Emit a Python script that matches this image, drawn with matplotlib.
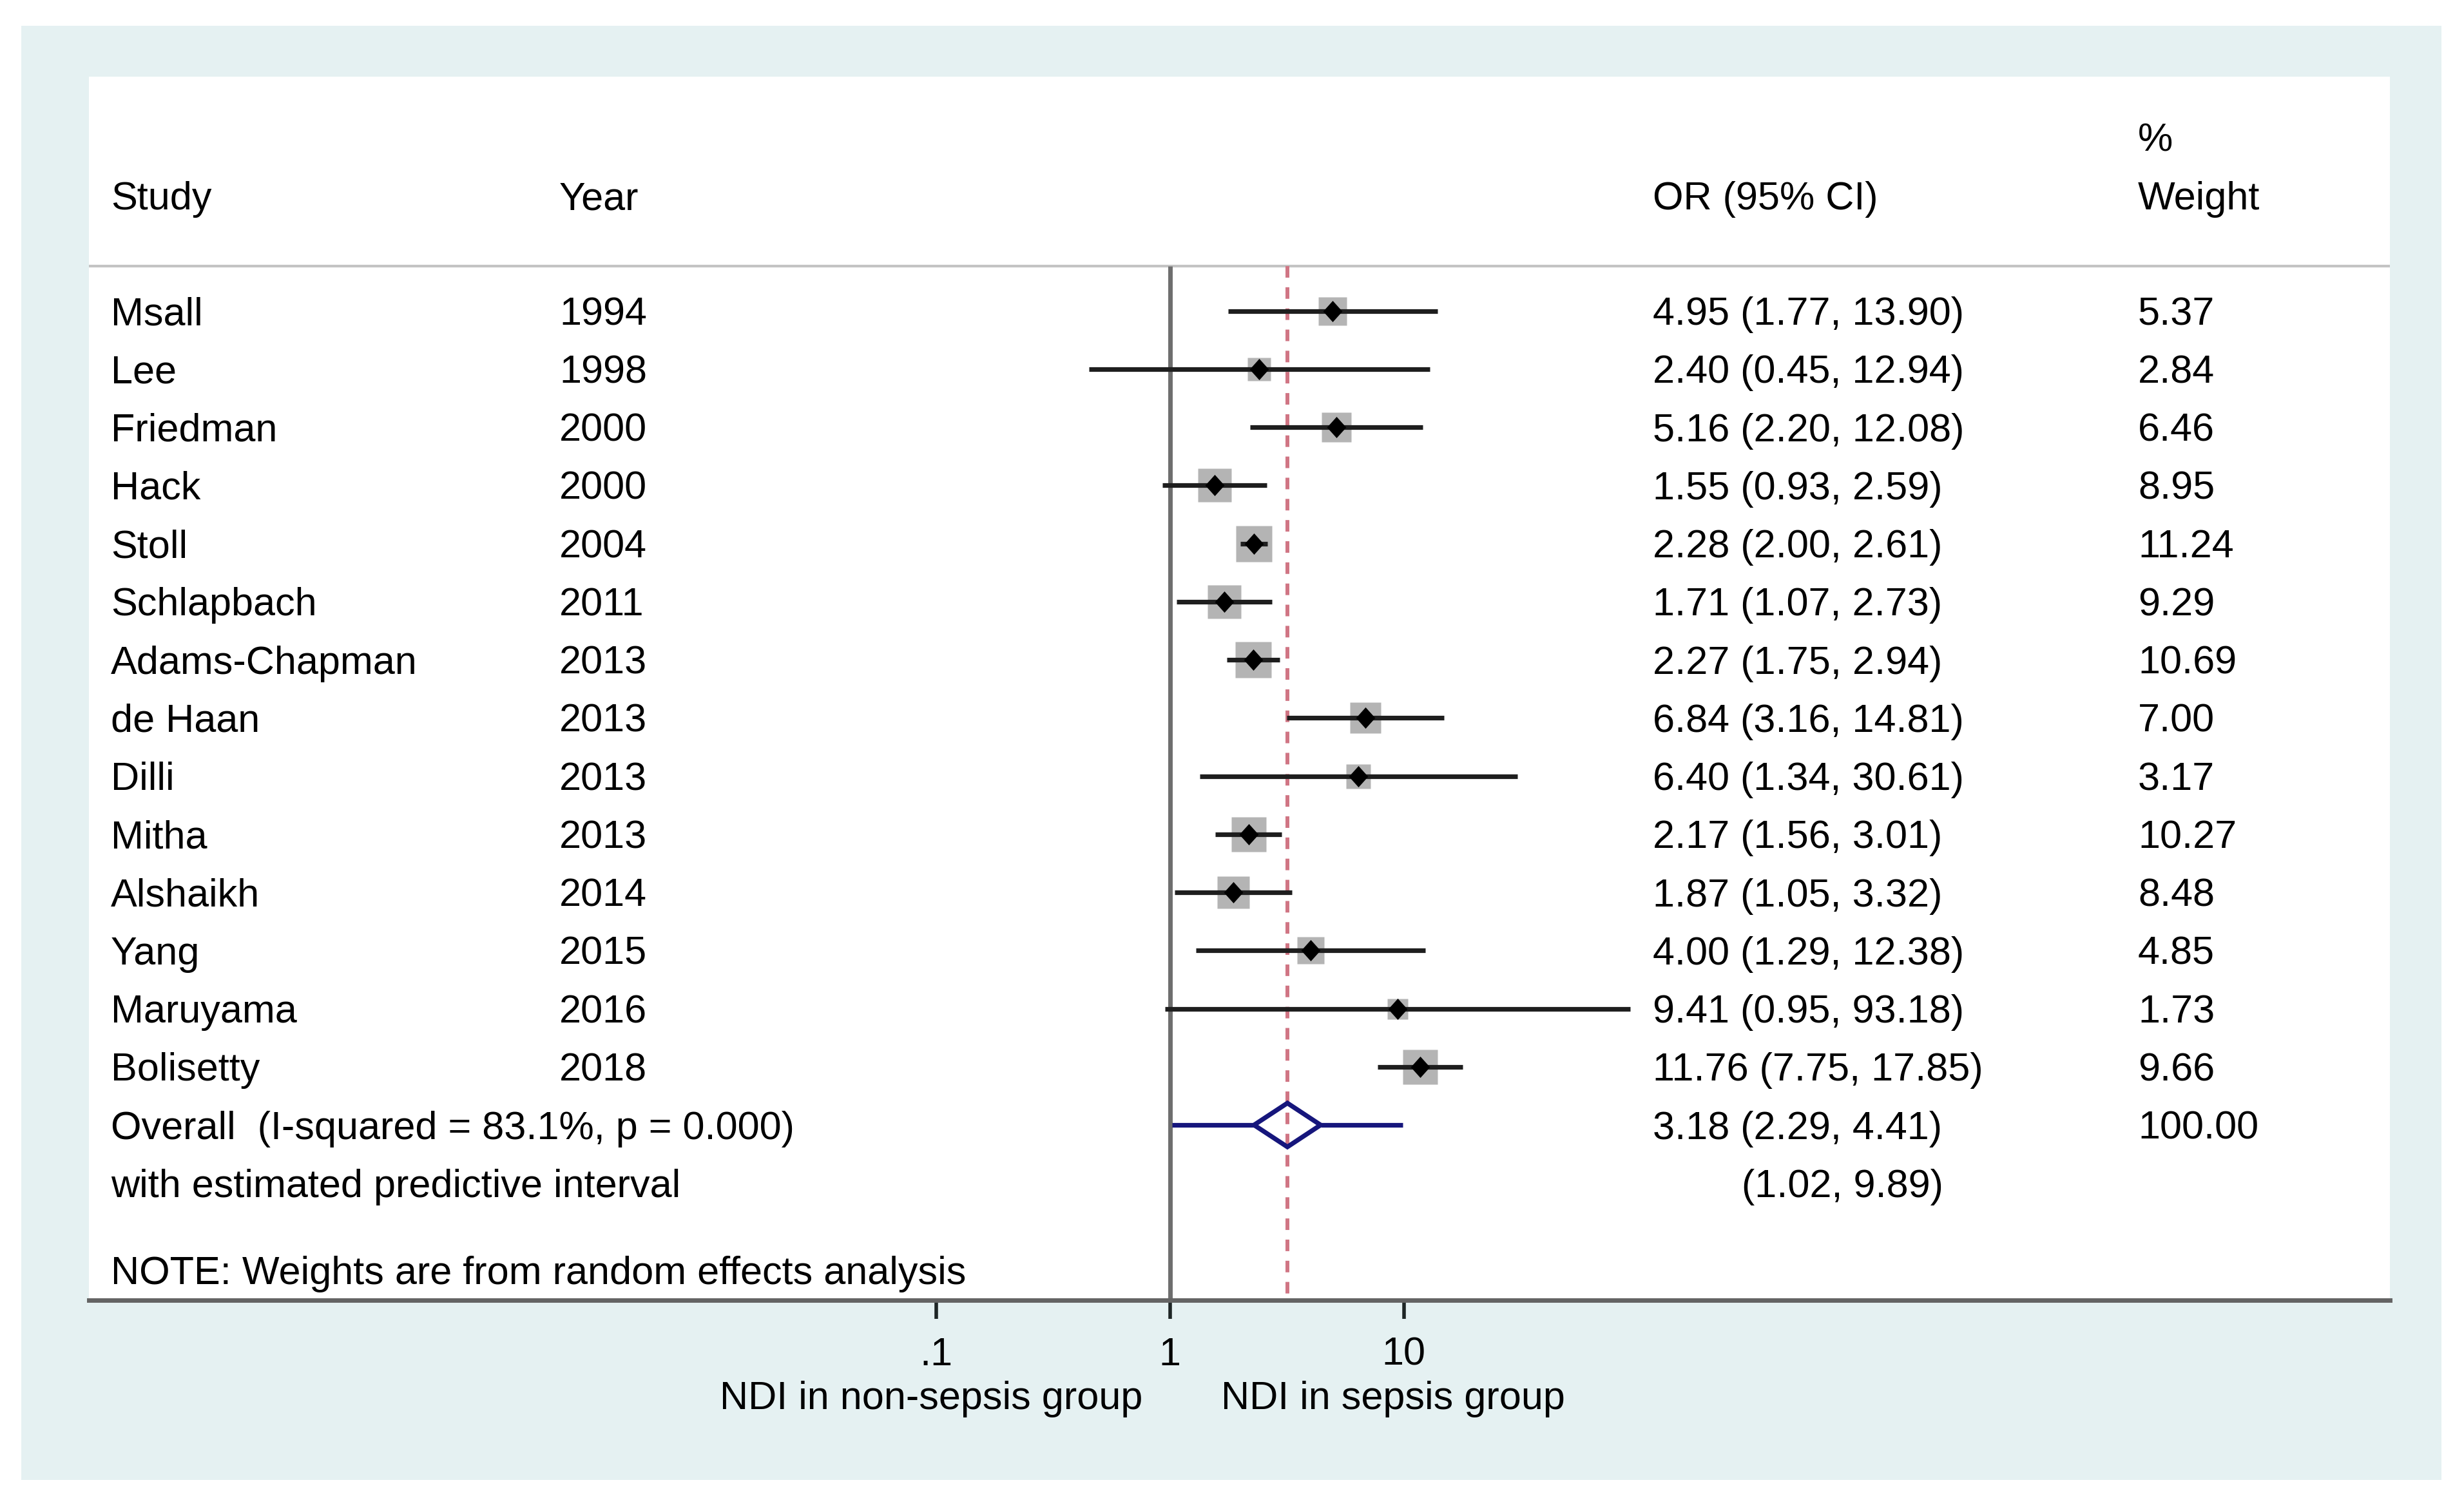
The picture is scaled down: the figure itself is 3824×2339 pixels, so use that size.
import numpy as np
import matplotlib
matplotlib.use("Agg")
import matplotlib.pyplot as plt
import matplotlib.transforms as mtransforms
from matplotlib.patches import Polygon
from matplotlib.ticker import NullLocator

plt.rcParams['font.family'] = ['Liberation Sans', 'DejaVu Sans']

# ---------------------------
# Data
# ---------------------------
studies = ["Msall", "Lee", "Friedman", "Hack", "Stoll", "Schlapbach", "Adams-Chapman",
           "de Haan", "Dilli", "Mitha", "Alshaikh", "Yang", "Maruyama", "Bolisetty"]
years = [1994, 1998, 2000, 2000, 2004, 2011, 2013, 2013, 2013, 2013, 2014, 2015, 2016, 2018]
odds = [4.95, 2.40, 5.16, 1.55, 2.28, 1.71, 2.27, 6.84, 6.40, 2.17, 1.87, 4.00, 9.41, 11.76]
lower = [1.77, 0.45, 2.20, 0.93, 2.00, 1.07, 1.75, 3.16, 1.34, 1.56, 1.05, 1.29, 0.95, 7.75]
upper = [13.90, 12.94, 12.08, 2.59, 2.61, 2.73, 2.94, 14.81, 30.61, 3.01, 3.32, 12.38, 93.18, 17.85]
weights = [5.37, 2.84, 6.46, 8.95, 11.24, 9.29, 10.69, 7.00, 3.17, 10.27, 8.48, 4.85, 1.73, 9.66]

overall = 3.18
overall_lo = 2.29
overall_hi = 4.41
pred_lo = 1.02
pred_hi = 9.89
i_squared = 83.1
p_value = 0.000

xticks = [0.1, 1, 10]
xtick_labels = [".1", "1", "10"]

# ---------------------------
# Layout (pixels of the 3824x2339 canvas)
# ---------------------------
W, H = 3824, 2339
left_px, right_px, top_px, bottom_px = 138, 3709, 119, 2018
null_px = 1815.6      # x pixel of OR = 1
dec_px = 363.0        # pixels per decade
row0_px = 482.6       # y pixel of first study row
row_h = 90.25         # row spacing in pixels

fs = 44
teal = "#e5f1f2"
navy = "#16167c"
lw_ci = 5.2

fig = plt.figure(figsize=(W / 100, H / 100), dpi=100)
fig.patch.set_facecolor("white")

# teal graph region as a background axes
bg = fig.add_axes([33 / W, 1 - 2297 / H, (3789 - 33) / W, (2297 - 40) / H], zorder=-5)
bg.set_facecolor(teal)
bg.set_xticks([])
bg.set_yticks([])
for s in bg.spines.values():
    s.set_visible(False)

ax = fig.add_axes([left_px / W, 1 - bottom_px / H,
                   (right_px - left_px) / W, (bottom_px - top_px) / H], zorder=1)
ax.set_facecolor("white")
ax.set_xscale("log")
ax.set_xlim(10 ** ((left_px - null_px) / dec_px), 10 ** ((right_px - null_px) / dec_px))
y_bottom = (bottom_px - row0_px) / row_h
y_top = (top_px - row0_px) / row_h
ax.set_ylim(y_bottom, y_top)

trans = mtransforms.blended_transform_factory(ax.transAxes, ax.transData)
def colx(px):
    return (px - left_px) / (right_px - left_px)

base = 21.5 / row_h   # baseline offset from row centre (half cap height)
hdr_line = (413 - row0_px) / row_h
hdr_y = (304 - row0_px) / row_h
pct_y = (213 - row0_px) / row_h

# header
ax.text(colx(172), hdr_y + base, "Study", transform=trans, fontsize=fs, va="baseline")
ax.text(colx(868), hdr_y + base, "Year", transform=trans, fontsize=fs, va="baseline")
ax.text(colx(2565), hdr_y + base, "OR (95% CI)", transform=trans, fontsize=fs, va="baseline")
ax.text(colx(3318), pct_y + base, "%", transform=trans, fontsize=fs, va="baseline")
ax.text(colx(3318), hdr_y + base, "Weight", transform=trans, fontsize=fs, va="baseline")
ax.axhline(hdr_line, color="#c4c4c4", lw=3, zorder=1)

# null line and overall line
ax.plot([1, 1], [hdr_line, y_bottom], color="#6e6e6e", lw=5, zorder=2,
        solid_capstyle="butt")
ax.plot([overall, overall], [hdr_line, y_bottom], color="#d07584", lw=4.3,
        linestyle=(0, (3.0, 2.5)), zorder=2.5)

diamond = [(0, 1), (0.9, 0), (0, -1), (-0.9, 0), (0, 1)]

for i in range(len(studies)):
    y = i
    side = (16.5 + 11.8 * np.sqrt(weights[i])) * 0.72
    ax.plot(odds[i], y, marker="s", ms=side, color="#b4b4b4", mec="none", zorder=2)
    ax.plot([lower[i], upper[i]], [y, y], color="#1e1e1e", lw=lw_ci, zorder=3,
            solid_capstyle="butt")
    ax.plot(odds[i], y, marker=diamond, ms=23.8, color="black", mec="none", zorder=4)
    ax.text(colx(172), y + base, studies[i], transform=trans, fontsize=fs, va="baseline")
    ax.text(colx(868), y + base, str(years[i]), transform=trans, fontsize=fs, va="baseline")
    ax.text(colx(2565), y + base, f"{odds[i]:.2f} ({lower[i]:.2f}, {upper[i]:.2f})",
            transform=trans, fontsize=fs, va="baseline")
    ax.text(colx(3318), y + base, f"{weights[i]:.2f}", transform=trans, fontsize=fs,
            va="baseline")

# overall row
yo = len(studies)
h = 34 / row_h
ax.plot([pred_lo, overall_lo], [yo, yo], color=navy, lw=lw_ci, zorder=3, solid_capstyle="butt")
ax.plot([overall_hi, pred_hi], [yo, yo], color=navy, lw=lw_ci, zorder=3, solid_capstyle="butt")
ax.add_patch(Polygon([(overall_lo, yo), (overall, yo - h), (overall_hi, yo), (overall, yo + h)],
                     closed=True, facecolor="none", edgecolor=navy, lw=lw_ci, zorder=4))
ax.text(colx(172), yo + base, f"Overall  (I-squared = {i_squared:.1f}%, p = {p_value:.3f})",
        transform=trans, fontsize=fs, va="baseline")
ax.text(colx(2565), yo + base, f"{overall:.2f} ({overall_lo:.2f}, {overall_hi:.2f})",
        transform=trans, fontsize=fs, va="baseline")
ax.text(colx(3318), yo + base, "100.00", transform=trans, fontsize=fs, va="baseline")

ax.text(colx(172), yo + 1 + base, "with estimated predictive interval", transform=trans,
        fontsize=fs, va="baseline")
ax.text(colx(2703), yo + 1 + base, f"({pred_lo:.2f}, {pred_hi:.2f})", transform=trans,
        fontsize=fs, va="baseline")
ax.text(colx(172), (1972 - row0_px) / row_h + base,
        "NOTE: Weights are from random effects analysis", transform=trans,
        fontsize=fs, va="baseline")

# axis
for s in ["top", "left", "right"]:
    ax.spines[s].set_visible(False)
ax.spines["bottom"].set_color("#646464")
ax.spines["bottom"].set_linewidth(5)
ax.set_xticks(xticks)
ax.set_xticklabels(xtick_labels)
ax.xaxis.set_minor_locator(NullLocator())
ax.set_yticks([])
ax.tick_params(axis="x", length=21, width=4, color="#1e2626", pad=20, labelsize=fs)

lab_y = (2165 - row0_px) / row_h + base
ax.text(10 ** ((1773 - null_px) / dec_px), lab_y, "NDI in non-sepsis group",
        fontsize=fs, ha="right", va="baseline", clip_on=False)
ax.text(10 ** ((1895 - null_px) / dec_px), lab_y, "NDI in sepsis group",
        fontsize=fs, ha="left", va="baseline", clip_on=False)

fig.savefig("out.png", dpi=100, facecolor="white")
